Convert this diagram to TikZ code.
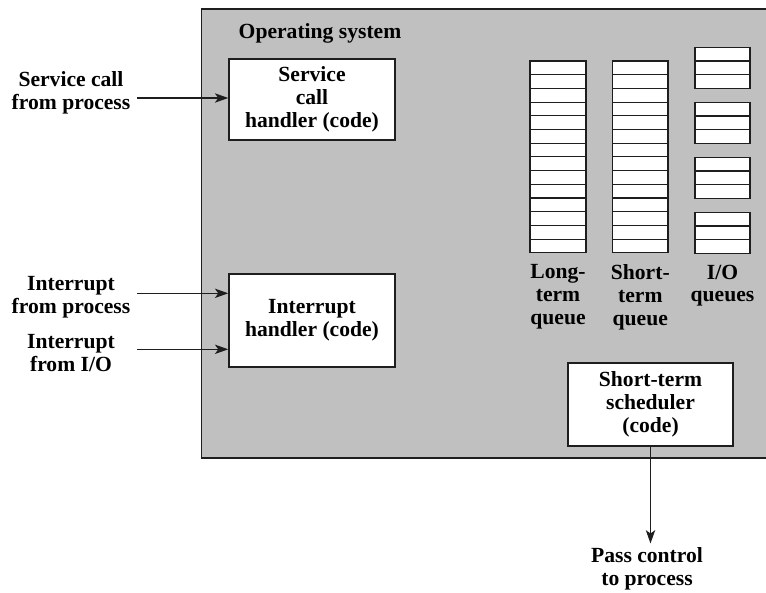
\documentclass[tikz,border=0pt]{standalone}
\usepackage{fontspec}
\setmainfont{Liberation Serif}
\usetikzlibrary{arrows.meta}
\definecolor{osgray}{RGB}{192,192,192}
\definecolor{lineblk}{RGB}{30,30,30}
\tikzset{
  txt/.style={font=\fontsize{16.2}{17.1}\selectfont\bfseries, align=center, inner sep=0pt},
  box/.style={draw=lineblk, line width=1.1pt, fill=white, txt},
  arr/.style={draw=lineblk, line width=1pt, -{Stealth[length=10pt,width=7pt,inset=2.5pt]}},
  cell/.style={draw=lineblk, line width=0.8pt, fill=white}
}
\begin{document}
\begin{tikzpicture}[x=0.75pt,y=-0.75pt]
\useasboundingbox (0,0) rectangle (766,592);
% operating system area
\begin{scope}
\clip (0,0) rectangle (766,592);
\draw[fill=osgray, draw=lineblk, line width=0.8pt] (201.7,9) rectangle (775,458);
\end{scope}
\node[txt] (os) at (320,33) {Operating system};

% handler boxes
\node[box, minimum width=124.5pt, minimum height=60.75pt] (svc) at (312,99.5) {Service\\call\\handler (code)};
\node[box, minimum width=124.5pt, minimum height=69.75pt] (intr) at (312,320.5) {Interrupt\\handler (code)};
\node[box, minimum width=123.75pt, minimum height=62.25pt] (sched) at (650.5,404.5) {Short-term\\scheduler\\(code)};

% queues
\foreach \i in {0,...,13}{
  \draw[cell] (530,{61+13.7*\i}) rectangle (586,{61+13.7*(\i+1)});
  \draw[cell] (612.7,{61+13.7*\i}) rectangle (668,{61+13.7*(\i+1)});
}
\foreach \g in {0,1,2,3}{
  \foreach \i in {0,1,2}{
    \draw[cell] (695,{47.3+55*\g+13.7*\i}) rectangle (750,{47.3+55*\g+13.7*(\i+1)});
  }
}
\node[txt, anchor=north] (ltq) at (558,264.5) {Long-\\term\\queue};
\node[txt, anchor=north] (stq) at (640.3,264.5) {Short-\\term\\queue};
\node[txt, anchor=north] (ioq) at (722.5,264.5) {I/O\\queues};

% left labels
\node[txt] (lsvc) at (71,93) {Service call\\from process};
\node[txt] (lip) at (71,297) {Interrupt\\from process};
\node[txt] (lio) at (71,353) {Interrupt\\from I/O};
\coordinate (a1) at (137,98);
\coordinate (a2) at (137,293.3);
\coordinate (a3) at (137,349.3);
\draw[arr] (a1) -- (svc.west |- a1);
\draw[arr] (a2) -- (intr.west |- a2);
\draw[arr] (a3) -- (intr.west |- a3);

% pass control
\node[txt] (pass) at (647,569) {Pass control\\to process};
\draw[arr] (sched.south) -- (sched.south |- 0,543.5);
\end{tikzpicture}
\end{document}
